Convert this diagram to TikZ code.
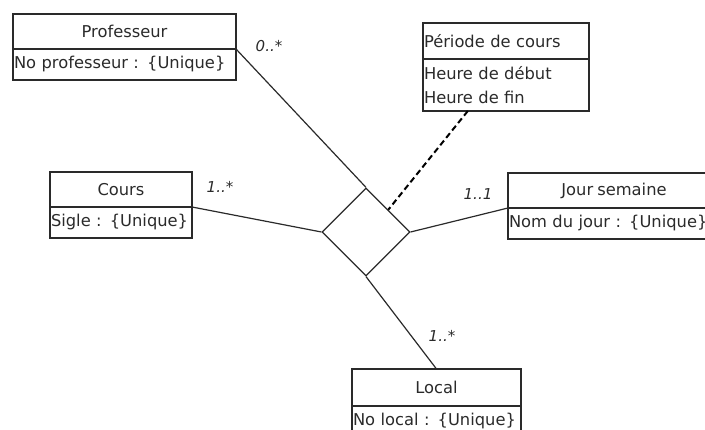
\documentclass[tikz,border=0pt]{standalone}
\usepackage{fontspec}
\setmainfont{DejaVu Sans}[WordSpace=0.8]
\usetikzlibrary{shapes.geometric,calc}
\definecolor{ink}{HTML}{2A2A2A}
\tikzset{
  cls/.style={draw=ink, line width=1.5pt, rectangle, inner sep=1pt, outer sep=0pt, text=ink, font=\fontsize{16.3}{19}\selectfont},
  ttl/.style={cls, align=center},
  attr/.style={cls, align=left, anchor=center},
  link/.style={draw=ink, line width=1.2pt},
  dlink/.style={draw=black, line width=2pt, dash pattern=on 6pt off 3.5pt},
  mult/.style={text=ink, font=\fontsize{15}{17}\selectfont\itshape, inner sep=0pt}
}
\begin{document}
\begin{tikzpicture}[x=1pt,y=-1pt]
\useasboundingbox (0,0) rectangle (705,430);
\begin{scope}
\clip (0,0) rectangle (705,430);
% Professeur
\node[ttl, minimum width=223pt, minimum height=35pt] (profT) at (124.5,31.5) {Professeur};
\node[attr, minimum width=223pt, minimum height=31pt, text width=221pt] (profA) at (124.5,64.5) {\mbox{No professeur : \{Unique\}}};
% Periode de cours
\node[cls, minimum width=166pt, minimum height=36pt, text width=164pt, align=left] (perT) at (506,41) {\mbox{Période de cours}};
\node[cls, minimum width=166pt, minimum height=52pt, text width=164pt, align=left, font=\fontsize{16.3}{24}\selectfont] (perA) at (506,85) {Heure de début\\Heure de fin};
% Cours
\node[ttl, minimum width=142pt, minimum height=35pt] (coursT) at (121,189.5) {Cours};
\node[attr, minimum width=142pt, minimum height=31pt, text width=140pt] (coursA) at (121,222.5) {\mbox{Sigle : \{Unique\}}};
% Jour semaine
\node[ttl, minimum width=212pt, minimum height=35pt] (jourT) at (614,190.5) {Jour semaine};
\node[attr, minimum width=212pt, minimum height=31pt, text width=210pt] (jourA) at (614,223.5) {\mbox{Nom du jour : \{Unique\}}};
% Local
\node[ttl, minimum width=169pt, minimum height=37pt] (locT) at (436.5,387.5) {Local};
\node[attr, minimum width=169pt, minimum height=31pt, text width=167pt, anchor=north] (locA) at (436.5,406) {\mbox{No local : \{Unique\}}};
% Association diamond
\node[draw=ink, line width=1.2pt, diamond, aspect=1, minimum size=88pt, inner sep=0pt] (assoc) at (366,232) {};
% connectors
\draw[link] (profA.north east) -- (assoc.north);
\draw[link] (coursA.north east) -- (assoc.west);
\draw[link] (assoc.east) -- (jourA.north west);
\draw[link] (assoc.south) -- (locT.north);
\coordinate (perFoot) at ($(perA.south west)!0.27!(perA.south east)$);
\draw[dlink] (perFoot) -- (assoc.north east);
% multiplicities
\node[mult] (m1) at (269,46) {0..*};
\node[mult] (m2) at (220,187) {1..*};
\node[mult] (m3) at (478,194) {1..1};
\node[mult] (m4) at (442,336) {1..*};
\end{scope}
\end{tikzpicture}
\end{document}
